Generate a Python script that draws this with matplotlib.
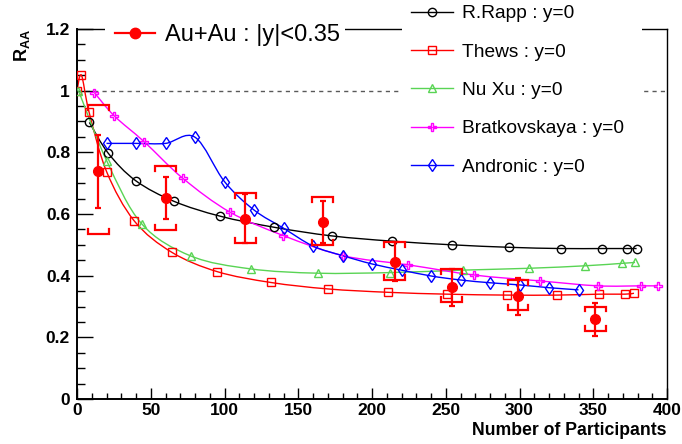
import numpy as np
import matplotlib
matplotlib.use("Agg")
import matplotlib.pyplot as plt
from matplotlib.path import Path
from matplotlib.patches import PathPatch, Rectangle
from matplotlib.lines import Line2D
from matplotlib.ticker import MultipleLocator, FuncFormatter

plt.rcParams['font.family'] = ['Liberation Sans', 'DejaVu Sans']
plt.rcParams['mathtext.fontset'] = 'custom'
plt.rcParams['mathtext.rm'] = 'Liberation Sans'
plt.rcParams['mathtext.bf'] = 'Liberation Sans:bold'

# PHENIX Au+Au |y|<0.35
npart = [14.5, 60.0, 114.2, 166.6, 215.3, 253.9, 299.0, 351.4]
raa = [0.740, 0.653, 0.584, 0.575, 0.444, 0.364, 0.334, 0.258]
stat_up = [0.116, 0.066, 0.080, 0.068, 0.064, 0.058, 0.059, 0.052]
stat_dn = [0.120, 0.070, 0.079, 0.068, 0.061, 0.062, 0.062, 0.054]
sys_up = [0.214, 0.103, 0.083, 0.081, 0.066, 0.058, 0.052, 0.042]
sys_dn = [0.205, 0.105, 0.078, 0.075, 0.058, 0.048, 0.045, 0.038]

# model curves, y=0
rapp_x = [8.4, 21.2, 39.8, 65.8, 97.0, 133.6, 172.7, 213.3, 254.5, 293.0, 328.0, 355.7, 373.0, 379.4]
rapp_y = [0.897, 0.797, 0.708, 0.641, 0.593, 0.557, 0.529, 0.512, 0.500, 0.492, 0.488, 0.488, 0.488, 0.488]

thews_x = [0.0, 3.0, 8.2, 20.1, 38.9, 64.2, 95.1, 131.3, 170.0, 211.0, 251.0, 291.3, 325.6, 354.0, 371.5, 377.6]
thews_y = [1.000, 1.050, 0.930, 0.737, 0.577, 0.476, 0.413, 0.378, 0.357, 0.346, 0.340, 0.337, 0.337, 0.340, 0.340, 0.343]

xu_x = [1.0, 20.1, 43.9, 77.1, 117.7, 163.2, 212.2, 261.5, 306.7, 344.4, 369.7, 378.3]
xu_y = [1.000, 0.773, 0.568, 0.464, 0.422, 0.408, 0.410, 0.418, 0.424, 0.432, 0.440, 0.443]

brat_x = [11.7, 25.3, 45.4, 71.7, 103.7, 139.9, 180.3, 224.6, 269.4, 313.9, 353.0, 382.4, 393.7]
brat_y = [0.994, 0.918, 0.835, 0.716, 0.606, 0.530, 0.465, 0.435, 0.402, 0.383, 0.367, 0.367, 0.367]

andr_x = [20, 40, 60, 80, 100, 120, 140, 160, 180, 200, 220, 240, 260, 280, 300, 320, 340]
andr_y = [0.829, 0.829, 0.829, 0.849, 0.705, 0.613, 0.554, 0.496, 0.465, 0.438, 0.418,
          0.399, 0.386, 0.377, 0.370, 0.361, 0.354]

models = [
    ("R.Rapp : y=0", rapp_x, rapp_y, "black", "o"),
    ("Thews : y=0", thews_x, thews_y, "#ff0000", "s"),
    ("Nu Xu : y=0", xu_x, xu_y, "#59d454", "^"),
    ("Bratkovskaya : y=0", brat_x, brat_y, "#ff00ff", "P"),
    ("Andronic : y=0", andr_x, andr_y, "#0000ff", "d"),
]


def smooth_path(x, y):
    # Catmull-Rom through the points, as cubic Bezier segments
    p = np.column_stack([x, y]).astype(float)
    n = len(p)
    verts = [p[0]]
    codes = [Path.MOVETO]
    for i in range(n - 1):
        p0 = p[max(i - 1, 0)]
        p1 = p[i]
        p2 = p[i + 1]
        p3 = p[min(i + 2, n - 1)]
        verts += [p1 + (p2 - p0) / 6.0, p2 - (p3 - p1) / 6.0, p2]
        codes += [Path.CURVE4] * 3
    return Path(verts, codes)


fig = plt.figure(figsize=(6.82, 4.44), dpi=100)
ax = fig.add_axes([77 / 682, 45 / 444, 590 / 682, 370 / 444])

ax.axhline(1.0, color="0.35", lw=1.0, ls=(0, (3, 3)), zorder=1)

handles = []
for label, mx, my, col, mk in models:
    ax.add_patch(PathPatch(smooth_path(mx, my), fill=False, edgecolor=col, lw=1.0, zorder=2))
    ax.plot(mx, my, ls="none", marker=mk, ms=6, mfc="none", mec=col, mew=1.0, zorder=3)
    handles.append(Line2D([], [], color=col, lw=1.0, marker=mk, ms=6, mfc="none", mec=col, mew=1.0))

# systematic brackets
w = 7.0
t = 0.016
for xi, yi, su, sd in zip(npart, raa, sys_up, sys_dn):
    hi = yi + su
    lo = yi - sd
    ax.plot([xi - w, xi - w, xi + w, xi + w], [hi - t, hi, hi, hi - t], color="red", lw=1.6,
            solid_joinstyle="miter", zorder=4)
    ax.plot([xi - w, xi - w, xi + w, xi + w], [lo + t, lo, lo, lo + t], color="red", lw=1.6,
            solid_joinstyle="miter", zorder=4)

ax.errorbar(npart, raa, yerr=[stat_dn, stat_up], fmt="o", color="red", ms=7, elinewidth=1.6,
            capsize=2.5, capthick=1.6, zorder=5)

ax.set_xlim(0, 400)
ax.set_ylim(0, 1.2)
ax.xaxis.set_major_locator(MultipleLocator(50))
ax.xaxis.set_minor_locator(MultipleLocator(10))
ax.yaxis.set_major_locator(MultipleLocator(0.2))
ax.yaxis.set_minor_locator(MultipleLocator(0.05))
fmt = FuncFormatter(lambda v, pos: f"{v:g}")
ax.xaxis.set_major_formatter(fmt)
ax.yaxis.set_major_formatter(fmt)
ax.tick_params(axis="both", which="both", direction="in", top=False, right=False,
               labelsize=12.5, width=1.0)
ax.tick_params(axis="x", which="major", length=8, pad=3)
ax.tick_params(axis="x", which="minor", length=4.3)
ax.tick_params(axis="y", which="major", length=11.3, pad=5)
ax.tick_params(axis="y", which="minor", length=5.8)
for lab in ax.get_xticklabels() + ax.get_yticklabels():
    lab.set_fontweight("bold")
for sp in ax.spines.values():
    sp.set_linewidth(1.0)
ax.spines["left"].set_linewidth(1.4)
ax.spines["bottom"].set_linewidth(1.4)

fig.text(666 / 682, 1 - 430 / 444, "Number of Participants", ha="right", va="center",
         fontsize=12.7, fontweight="bold")
fig.text(22 / 682, 1 - 29 / 444, r"$\mathbf{R}_{\mathbf{AA}}$", ha="center", va="top",
         rotation=90, fontsize=13)

# white legend boxes hiding the frame
fig.patches.append(Rectangle((105 / 682, 1 - 55 / 444), 240 / 682, 45 / 444,
                             transform=fig.transFigure, facecolor="white", edgecolor="none", zorder=4))
fig.patches.append(Rectangle((402 / 682, 1 - 180 / 444), 240 / 682, 180 / 444,
                             transform=fig.transFigure, facecolor="white", edgecolor="none", zorder=4))

main_h = Line2D([], [], color="red", lw=1.6, marker="o", ms=7.5, mfc="red", mec="red")
fig.legend([main_h], ["Au+Au : |y|<0.35"], loc="center left",
           bbox_to_anchor=(115 / 682, 1 - 35 / 444), frameon=False, fontsize=17,
           handlelength=1.7, handletextpad=0.42, borderpad=0, borderaxespad=0, numpoints=1)

fig.legend(handles, [m[0] for m in models], loc="upper left",
           bbox_to_anchor=(411 / 682, 1 - 5 / 444), frameon=False, fontsize=13.8,
           handlelength=2.2, handletextpad=0.47, labelspacing=1.09, borderpad=0,
           borderaxespad=0, numpoints=1)

fig.savefig("out.png", dpi=100)
